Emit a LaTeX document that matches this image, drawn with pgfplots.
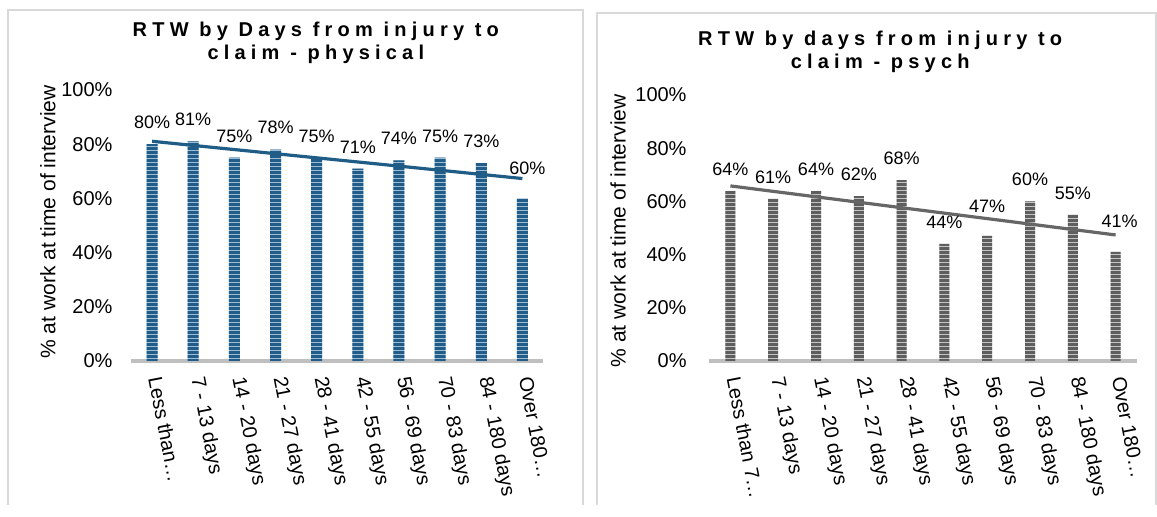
\documentclass[border=0pt]{standalone}
\usepackage{fontspec}
\setmainfont{Liberation Sans}
\newfontfamily\titlefont[LetterSpace=26]{Liberation Sans}
\usepackage{pgfplots}
\usepackage{pgfplotstable}
\pgfplotsset{compat=1.18}
\usetikzlibrary{patterns.meta}

\definecolor{physdark}{HTML}{215D88}
\definecolor{physlight}{HTML}{9DBDD5}
\definecolor{phystrend}{HTML}{1F5C86}
\definecolor{psydark}{HTML}{5E5E5E}
\definecolor{psylight}{HTML}{C4C4C4}
\definecolor{psytrend}{HTML}{666666}
\definecolor{frame}{HTML}{D9D9D9}
\definecolor{baseline}{HTML}{BFBFBF}

% x = category, y = % at work, off/dx = label shift (pt)
\pgfplotstableread{
x y  off dx
1 80 4.2 0
2 81 4.2 0
3 75 4.2 0
4 78 4.2 0
5 75 4.2 0
6 71 4.2 0
7 74 4.2 0
8 75 4.2 0
9 73 4.2 0
10 60 8.2 2.5
}\physical

\pgfplotstableread{
x y  off dx
1 64 4.2 0
2 61 4.2 0
3 64 4.2 0
4 62 4.2 0
5 68 4.2 0
6 44 4.2 0
7 47 8 0
8 60 4.2 0
9 55 4.2 0
10 41 8.7 2
}\psych

\pgfplotsset{
  rtw/.style={
    scale only axis,
    ymin=0, ymax=100,
    xmin=0.5, xmax=10.5,
    xtick={1,...,10},
    ytick={0,20,...,100},
    yticklabels={0\%,20\%,40\%,60\%,80\%,100\%},
    axis x line*=bottom,
    axis y line*=left,
    y axis line style={draw=none},
    x axis line style={draw=baseline, line width=1.6pt},
    tick style={draw=none},
    font=\fontsize{10}{12}\selectfont,
    xticklabel style={rotate=-79, anchor=west, inner xsep=8pt},
    label style={font=\fontsize{10.5}{12}\selectfont},
    /pgf/number format/assume math mode=true,
    % default title yshift is 6pt; cancel it
    title style={align=center, yshift=-6pt, font=\titlefont\bfseries\fontsize{10}{11.7}\selectfont},
    clip=false,
  },
  rtwbars/.style 2 args={ybar, bar width=#1, draw=none, fill=#2light,
    postaction={pattern={Lines[angle=0,distance=2pt,line width=1.2pt]}, pattern color=#2dark},
    visualization depends on={\thisrow{off} \as \loff},
    visualization depends on={\thisrow{dx} \as \ldx},
    nodes near coords={\pgfmathprintnumber{\pgfplotspointmeta}\%},
    every node near coord/.append style={yshift=\loff pt, xshift=\ldx pt, font=\fontsize{9}{11}\selectfont},
    point meta=y},
}

\begin{document}
\begin{tikzpicture}
\path (0,0) rectangle (578.5pt,252.5pt);
\draw[frame, line width=0.8pt] (4pt,0) -- (4pt,247.5pt) -- (291.5pt,247.5pt) -- (291.5pt,0);
\draw[frame, line width=0.8pt] (298.5pt,0) -- (298.5pt,246pt) -- (578pt,246pt) -- (578pt,0);

\begin{axis}[rtw,
  at={(65.75pt,72pt)}, anchor=south west,
  width=205.75pt, height=135.5pt,
  xticklabels={Less than…,7 - 13 days,14 - 20 days,21 - 27 days,28 - 41 days,42 - 55 days,56 - 69 days,70 - 83 days,84 - 180 days,Over 180…},
  yticklabel style={xshift=-6pt},
  ylabel={\% at work at time of interview},
  ylabel style={at={(axis description cs:-0.203,0.513)}, anchor=center},
  title={RTW by Days from injury to\\claim - physical},
  title style={at={(axis description cs:0.448,1.175)}, anchor=center},
]
\addplot[rtwbars={5.5pt}{phys}] table[x=x, y=y] {\physical};
\addplot[no marks, draw=phystrend, line width=1.6pt]
  table[x=x, y={create col/linear regression={y=y}}] {\physical};
\end{axis}

\begin{axis}[rtw,
  at={(354.5pt,72pt)}, anchor=south west,
  width=214pt, height=133pt,
  xticklabels={Less than 7…,7 - 13 days,14 - 20 days,21 - 27 days,28 - 41 days,42 - 55 days,56 - 69 days,70 - 83 days,84 - 180 days,Over 180…},
  yticklabel style={xshift=-7.7pt},
  ylabel={\% at work at time of interview},
  ylabel style={at={(axis description cs:-0.2126,0.489)}, anchor=center},
  title={RTW by days from injury to\\claim - psych},
  title style={at={(axis description cs:0.40,1.163)}, anchor=center},
]
\addplot[rtwbars={5pt}{psy}] table[x=x, y=y] {\psych};
\addplot[no marks, draw=psytrend, line width=1.6pt]
  table[x=x, y={create col/linear regression={y=y}}] {\psych};
\end{axis}
\end{tikzpicture}
\end{document}
